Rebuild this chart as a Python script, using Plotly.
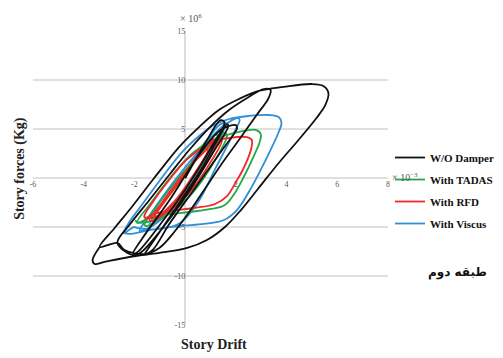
import plotly.graph_objects as go

# Story drift (x 10^-3) and story force (x 10^6 Kg) hysteresis paths
wo_x = [0.0, 0.8, 1.4, 1.55, 1.0, 0.0, -1.0, -1.9, -2.05, -1.7, -0.6, 0.5, 1.4, 2.0, 2.05, 1.5, 0.4, -0.6, -1.3, -1.6,
        -1.4, -0.4, 0.6, 1.3, 1.65, 1.7, 1.1, 0.2, -0.8, -1.7, -2.0,
        -2.67, -2.2, -1.41, -0.63, 0.16, 0.94, 1.73, 2.51, 3.1, 3.37, 3.29, 2.82, 2.12, 1.41, 0.75, 0.16, -0.43, -1.02, -1.61, -2.39, -2.67,
        -3.37, -2.78, -2.2, -1.22, -0.24, 0.55, 1.33, 2.12, 2.9, 3.88, 4.98, 5.45, 5.65, 5.53, 5.18, 4.47, 3.69, 2.9, 2.2, 1.57, 0.86, 0.08, -1.02, -2.2, -3.18, -3.57, -3.65, -3.37]
wo_y = [0.0, 3.6, 5.9, 5.7, 3.0, -1.2, -4.8, -7.6, -7.7, -6.2, -2.2, 2.2, 4.9, 5.4, 5.1, 3.0, -1.0, -4.6, -7.4, -7.8,
        -7.0, -3.2, 0.8, 4.0, 5.5, 5.3, 2.6, -1.2, -4.8, -7.5, -7.9,
        -6.63, -4.8, -2.24, 0.31, 2.86, 5.1, 6.94, 8.27, 9.08, 8.98, 8.16, 6.43, 3.88, 1.33, -1.22, -3.47, -5.51, -7.14, -7.76, -7.35, -6.63,
        -7.04, -5.1, -3.27, 0.0, 3.16, 5.2, 6.94, 8.06, 8.88, 9.29, 9.59, 9.39, 8.67, 7.45, 6.12, 3.88, 1.53, -1.02, -3.27, -5.0, -6.33, -7.14, -7.65, -8.06, -8.57, -8.78, -8.37, -7.04]

tadas_x = [0.0, 0.5, 0.9, 1.0, 0.5, -0.4, -1.1, -1.3, -0.9, 0.1,
           0.7, 1.2, 1.35, 0.9, 0.0, -0.9, -1.5, -1.6, -1.2, -0.2, 0.8, 1.5, 1.65, 1.2, 0.2, -0.8, -1.5,
           -1.88, -1.41, -0.82, -0.24, 0.35, 0.94, 1.53, 2.31, 2.78, 2.98, 2.94, 2.67, 2.31, 1.96, 1.57, 1.02, 0.16, -0.82, -1.49, -1.88, -1.96]
tadas_y = [0.0, 2.2, 3.4, 3.2, 0.8, -2.4, -4.0, -4.1, -2.6, 0.8,
           2.9, 4.4, 4.2, 1.8, -1.6, -3.9, -4.9, -4.8, -3.2, 0.2, 3.0, 4.6, 4.4, 1.9, -1.8, -3.9, -4.5,
           -4.49, -2.76, -0.71, 1.12, 2.65, 3.67, 4.29, 4.8, 4.9, 4.49, 3.67, 2.04, 0.1, -1.53, -2.76, -3.16, -3.47, -3.78, -4.18, -4.59, -4.29]

rfd_x = [0.0, 0.4, 0.8, 0.9, 0.4, -0.5, -1.1, -1.2, -0.8, 0.1,
         0.6, 1.1, 1.25, 0.8, -0.1, -0.9, -1.3, -1.4, -1.0, -0.1, 0.8, 1.3, 1.45, 1.0, 0.1, -0.8, -1.35,
         -1.61, -1.22, -0.63, -0.04, 0.55, 1.14, 1.73, 2.43, 2.63, 2.59, 2.31, 2.0, 1.65, 1.18, 0.35, -0.63, -1.22, -1.57, -1.61]
rfd_y = [0.0, 2.0, 3.1, 2.9, 0.6, -2.6, -3.9, -3.9, -2.4, 0.7,
         2.6, 3.9, 3.7, 1.4, -1.8, -3.8, -4.4, -4.3, -2.8, 0.3, 2.8, 4.0, 3.9, 1.6, -1.7, -3.6, -4.1,
         -3.98, -2.24, -0.2, 1.63, 2.86, 3.78, 4.08, 4.18, 3.88, 2.86, 1.02, -0.41, -1.84, -2.65, -3.06, -3.37, -3.67, -4.08, -3.98]

visc_x = [0.0, 0.5, 1.0, 1.1, 0.6, -0.4, -1.2, -1.4, -1.0, 0.0,
          0.7, 1.3, 1.6, 1.2, 0.2, -0.8, -1.6, -1.8, -1.4, -0.4, 0.7, 1.5, 2.1, 2.15, 1.9, 1.2, 0.5, -0.2, -1.0, -1.9, -2.0,
          -2.43, -2.2, -1.8, -1.22, -0.63, -0.04, 0.55, 1.14, 1.73, 2.51, 3.29, 3.69, 3.8, 3.69, 3.37, 2.98, 2.51, 2.04, 1.53, 0.75, -0.24, -1.41, -2.2, -2.43]
visc_y = [0.0, 2.6, 4.2, 4.0, 1.2, -2.6, -4.6, -4.8, -3.0, 0.6,
          3.2, 5.3, 5.6, 3.2, -1.0, -3.9, -5.3, -5.4, -3.8, -0.2, 3.2, 5.3, 6.1, 5.9, 4.5, 1.0, -2.5, -4.6, -5.2, -5.1, -5.0,
          -5.61, -4.49, -3.06, -1.02, 1.02, 2.86, 4.29, 5.41, 6.02, 6.33, 6.43, 6.22, 5.61, 4.69, 2.86, 0.82, -1.43, -3.27, -4.29, -4.69, -4.9, -5.31, -5.71, -5.61]

series_names = ["W/O Damper", "With TADAS", "With RFD", "With Viscus"]
x_ticks = [-6, -4, -2, 2, 4, 6, 8]
y_ticks = [-15, -10, -5, 5, 10, 15]

fig = go.Figure()
serif = "Liberation Serif, Times New Roman, serif"
spec = [
    (visc_x, visc_y, series_names[3], "#2f8fd8", 4),
    (tadas_x, tadas_y, series_names[1], "#22a84a", 2),
    (rfd_x, rfd_y, series_names[2], "#f02828", 3),
    (wo_x, wo_y, series_names[0], "#111111", 1),
]
for xs, ys, nm, col, rank in spec:
    fig.add_trace(go.Scatter(x=xs, y=ys, mode="lines", name=f"<b>{nm}</b>", legendrank=rank, legendgroup=nm,
                             line=dict(color=col, width=1.8, shape="spline", smoothing=1.0)))

fig.update_layout(
    width=495, height=350,
    margin=dict(l=25, r=115, t=23, b=33, autoexpand=False),
    paper_bgcolor="white", plot_bgcolor="white",
    showlegend=True,
    legend=dict(x=1.0056, y=0.619, xanchor="left", yanchor="top",
                font=dict(family=serif, size=11, color="#111"),
                bgcolor="rgba(0,0,0,0)", tracegroupgap=3, itemwidth=30),
    xaxis=dict(range=[-6, 8], tickvals=x_ticks, ticktext=[str(v) for v in x_ticks],
               anchor="free", position=0.5, showgrid=False, showline=False, ticks="",
               zeroline=True, zerolinecolor="#dcdcdc", zerolinewidth=1.5,
               tickfont=dict(family=serif, size=8, color="#595959")),
    yaxis=dict(range=[-15, 15], tickvals=y_ticks, ticktext=[str(v) for v in y_ticks],
               anchor="free", position=6 / 14, showgrid=True, gridcolor="#e0e0e0", gridwidth=1.5,
               showline=False, ticks="", zeroline=True, zerolinecolor="#e0e0e0", zerolinewidth=1.5,
               tickfont=dict(family=serif, size=8, color="#595959")),
    annotations=[
        dict(text="× 10<sup>6</sup>", x=0.445, y=1.044, xref="paper", yref="paper", showarrow=False,
             xanchor="center", yanchor="middle", font=dict(family=serif, size=10, color="#595959")),
        dict(text="× 10<sup>−3</sup>", x=1.006, y=0.503, xref="paper", yref="paper", showarrow=False,
             xanchor="left", yanchor="middle", font=dict(family=serif, size=10, color="#595959")),
        dict(text="<b>Story Drift</b>", x=0.51, y=-0.068, xref="paper", yref="paper", showarrow=False,
             xanchor="center", yanchor="middle", font=dict(family=serif, size=14, color="#222")),
        dict(text="<b>Story forces (Kg)</b>", x=-0.037, y=0.534, xref="paper", yref="paper", showarrow=False,
             xanchor="center", yanchor="middle", textangle=-90, font=dict(family=serif, size=14, color="#222")),
        dict(text="<b>طبقه دوم</b>", x=1.197, y=0.18, xref="paper", yref="paper", showarrow=False,
             xanchor="center", yanchor="middle", font=dict(family="DejaVu Sans, sans-serif", size=12, color="#111")),
    ],
)
fig.write_html("out.html")
